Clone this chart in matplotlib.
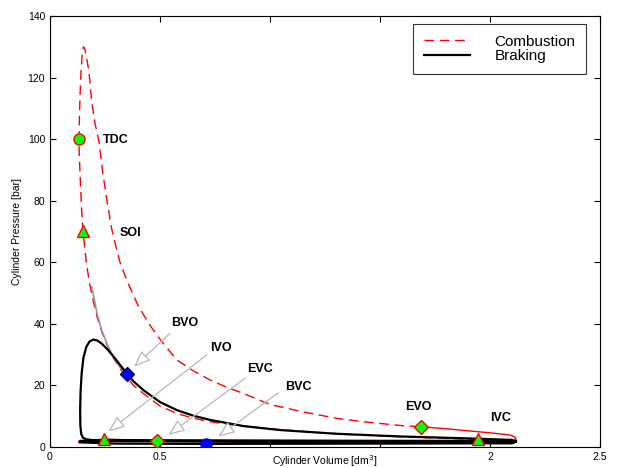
import numpy as np
import matplotlib
matplotlib.use('Agg')
import matplotlib.pyplot as plt

plt.rcParams['font.family'] = ['Liberation Sans', 'DejaVu Sans']

# -------- DATA --------
# combustion cycle, IVC -> compression -> TDC -> peak -> expansion -> EVO
comb_v = [1.947, 1.8, 1.6, 1.4, 1.2, 1.0, 0.85, 0.727, 0.65, 0.576, 0.5, 0.424,
          0.38, 0.352, 0.32, 0.29, 0.26, 0.235, 0.215, 0.195, 0.18, 0.165, 0.15,
          0.143, 0.137, 0.133, 0.132, 0.134, 0.137, 0.141, 0.146, 0.152, 0.158,
          0.165, 0.177, 0.19, 0.205, 0.223, 0.24, 0.259, 0.28, 0.3, 0.318, 0.35,
          0.4, 0.45, 0.5, 0.576, 0.65, 0.727, 0.8, 0.879, 1.0, 1.15, 1.303,
          1.45, 1.606, 1.686]
comb_p = [2.5, 2.8, 3.3, 3.9, 4.8, 5.9, 7.0, 8.2, 9.4, 10.9, 13.3, 17.4,
          20.0, 22.3, 25.3, 28.7, 33.0, 37.5, 42.0, 48.0, 53.0, 60.0, 70.0,
          78.0, 88.0, 95.0, 100.0, 108.0, 115.0, 122.0, 127.0, 130.0, 129.5,
          127.0, 122.0, 112.0, 105.0, 99.0, 89.0, 80.0, 71.0, 65.0, 60.0, 54.0,
          46.0, 40.0, 35.0, 28.3, 24.8, 21.8, 19.5, 17.4, 13.8, 11.4, 9.3,
          8.0, 6.9, 6.6]
# combustion cycle, EVO -> blowdown -> exhaust -> intake -> IVC
exh_v = [1.686, 1.8, 1.894, 2.0, 2.09, 2.112, 2.118, 2.11, 2.0, 1.5, 1.0, 0.5,
         0.2, 0.13, 0.13, 0.245, 0.486, 1.0, 1.5, 2.1, 2.115, 2.05, 1.947]
exh_p = [6.6, 5.9, 5.3, 4.6, 3.9, 3.3, 2.6, 2.0, 1.85, 1.85, 1.9, 1.9,
         1.9, 1.8, 1.4, 2.6, 2.0, 1.4, 1.4, 1.4, 1.8, 2.2, 2.5]

# braking cycle
brake_v = [2.118, 2.1, 1.9, 1.6, 1.3, 1.045, 0.879, 0.727, 0.65, 0.576, 0.5,
           0.424, 0.38, 0.352, 0.32, 0.29, 0.26, 0.235, 0.215, 0.197, 0.18,
           0.165, 0.152, 0.144, 0.139, 0.137, 0.138, 0.142, 0.15, 0.165, 0.195,
           0.5, 1.0, 1.5, 2.0, 2.118, 2.1, 1.5, 1.0, 0.5, 0.136, 0.136, 0.3,
           0.71, 1.5, 2.1, 2.118]
brake_p = [1.9, 2.3, 2.8, 3.4, 4.3, 5.5, 6.8, 8.8, 10.2, 12.0, 14.6,
           18.5, 21.3, 23.6, 26.5, 29.3, 31.8, 33.6, 34.6, 34.9, 34.3,
           32.5, 29.0, 24.0, 18.0, 12.0, 7.0, 4.2, 3.0, 2.5, 2.2,
           2.2, 2.1, 2.0, 2.0, 1.7, 1.3, 1.5, 1.7, 1.9, 2.0, 1.5, 1.1,
           1.0, 1.1, 1.2, 1.9]

# braking compression without brake valve opening
ref_v = [0.19, 0.2, 0.215, 0.235, 0.26, 0.29, 0.32, 0.352]
ref_p = [52.0, 48.5, 43.0, 38.0, 33.3, 29.0, 25.7, 23.6]

# valve / injection events
event_names = ['TDC', 'SOI', 'BVO', 'IVO', 'EVC', 'BVC', 'EVO', 'IVC']
event_v = [0.132, 0.15, 0.352, 0.245, 0.486, 0.71, 1.686, 1.947]
event_p = [100.0, 70.0, 23.6, 2.6, 2.0, 1.0, 6.6, 2.5]

x_ticks = [0, 0.5, 1, 1.5, 2, 2.5]
x_ticklabels = ['0', '0.5', '', '', '2', '2.5']  # middle ones sit under the axis title
# ------------------------

event_marker = ['o', '^', 'D', '^', 'D', 'o', 'D', '^']
event_face = ['#00ff00', '#00ff00', '#0000ff', '#00ff00', '#00ff00', '#0000ff',
              '#00ff00', '#00ff00']
event_edge = ['red', 'red', '#000080', 'red', 'red', '#0000ff', 'red', 'red']
event_size = [8, 8, 7, 8, 7, 8, 7, 8]

# label placement (text anchor, arrow start) in data units
label_xy = {'TDC': (0.241, 99.7), 'SOI': (0.318, 69.5), 'BVO': (0.55, 40.3),
            'IVO': (0.727, 32.2), 'EVC': (0.895, 25.2), 'BVC': (1.068, 19.4),
            'EVO': (1.614, 13.1), 'IVC': (2.0, 9.3)}
arrow_from = {'BVO': (0.545, 36.9), 'IVO': (0.712, 29.9), 'EVC': (0.886, 22.3),
              'BVC': (1.038, 17.6)}
arrow_to = {'BVO': (0.382, 26.1), 'IVO': (0.265, 5.0), 'EVC': (0.538, 3.9),
            'BVC': (0.765, 3.35)}

fig = plt.figure(figsize=(6.18, 4.68), dpi=100)
ax = fig.add_axes([0.0809, 0.0449, 0.89, 0.9209])

ax.plot(comb_v, comb_p, color='red', lw=1.0, dashes=(7, 4), label='Combustion')
ax.plot(exh_v, exh_p, color='red', lw=1.0)
ax.plot(ref_v, ref_p, color='0.6', lw=1.2)
ax.plot(brake_v, brake_p, color='black', lw=1.6, label='Braking')

for name in arrow_from:
    ax.annotate('', xy=arrow_to[name], xytext=arrow_from[name],
                arrowprops=dict(arrowstyle='-|>,head_length=1.0,head_width=0.4',
                                fc='white', ec='0.72', lw=0.9,
                                shrinkA=0, shrinkB=0))

for i, name in enumerate(event_names):
    ax.plot(event_v[i], event_p[i], marker=event_marker[i], ms=event_size[i],
            mfc=event_face[i], mec=event_edge[i], mew=1.0, ls='none', zorder=5)
    tx, ty = label_xy[name]
    ax.text(tx, ty, name, fontsize=9, fontweight='bold', va='center', ha='left')

ax.set_xlim(0, 2.5)
ax.set_ylim(0, 140)
ax.set_xticks(x_ticks)
ax.set_xticklabels(x_ticklabels)
ax.set_yticks(np.arange(0, 141, 20))
ax.tick_params(direction='in', top=True, right=True, labelsize=7.5, length=4)
ax.set_xlabel('Cylinder Volume [dm$^3$]', fontsize=7.5, va='center')
ax.xaxis.set_label_coords(0.5, -0.033)
ax.set_ylabel('Cylinder Pressure [bar]', fontsize=7.5, va='center')
ax.yaxis.set_label_coords(-0.06, 0.5)

leg = ax.legend(loc='upper right', fontsize=11, frameon=True, fancybox=False,
                edgecolor='black', handlelength=3.0, handletextpad=1.6,
                borderpad=0.7, labelspacing=0.05, borderaxespad=0,
                bbox_to_anchor=(0.9745, 0.9814))
leg.get_frame().set_linewidth(0.8)

fig.savefig('out.png', dpi=100)
